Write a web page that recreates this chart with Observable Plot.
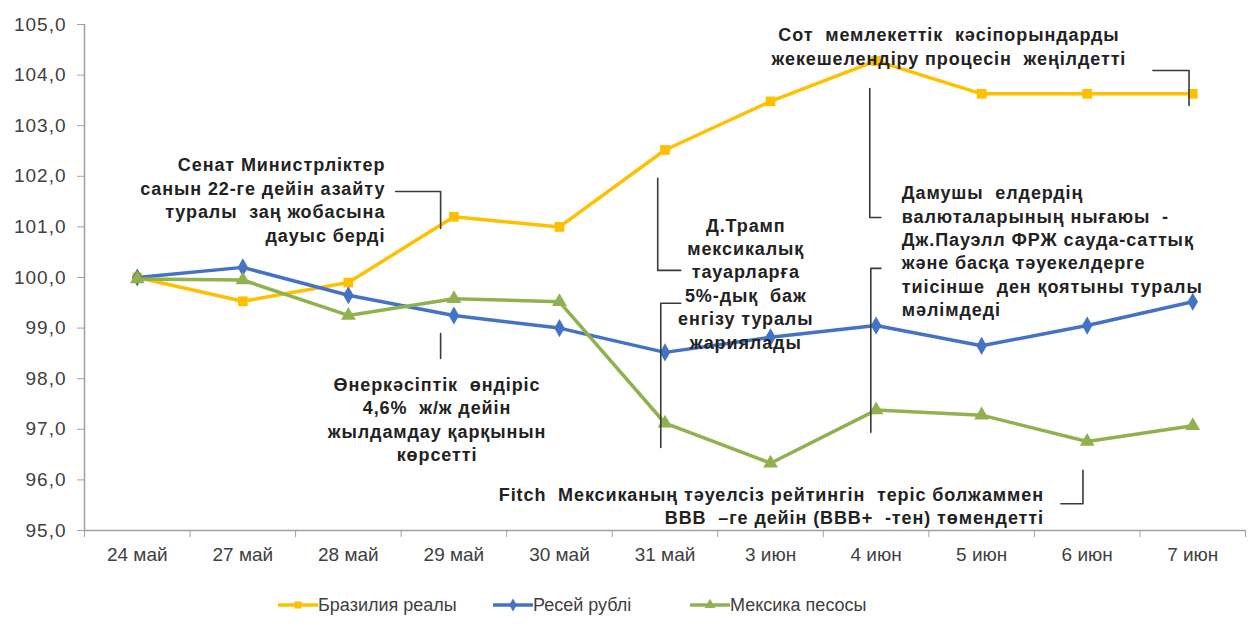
<!DOCTYPE html>
<html>
<head>
<meta charset="utf-8">
<script src="https://cdn.jsdelivr.net/npm/d3@7"></script>
<script src="https://cdn.jsdelivr.net/npm/@observablehq/plot@0.6"></script>
<style>
  body { margin: 0; background: #fff; font-family: "Liberation Sans", Arial, sans-serif; }
  #wrap { position: relative; width: 1253px; height: 639px; }
  #legend { position: absolute; left: 278px; top: 594px; font-size: 18px; color: #404040; }
  .item { position: absolute; display: flex; align-items: center; white-space: nowrap; height: 22px; }
</style>
</head>
<body>
<div id="wrap"><div id="chart"></div><div id="legend"></div></div>
<script>
const dates = ["24 май","27 май","28 май","29 май","30 май","31 май","3 июн","4 июн","5 июн","6 июн","7 июн"];
const brazil = [100.0, 99.53, 99.9, 101.2, 101.0, 102.52, 103.48, 104.28, 103.63, 103.63, 103.63];
const russia = [100.0, 100.2, 99.65, 99.25, 99.0, 98.52, 98.82, 99.05, 98.65, 99.05, 99.52];
const mexico = [99.97, 99.95, 99.25, 99.58, 99.52, 97.12, 96.33, 97.38, 97.28, 96.76, 97.07];
const seriesNames = ["Бразилия реалы", "Ресей рублі", "Мексика песосы"];
const seriesColors = ["#FFC000", "#4472C4", "#8FB24E"];
const seriesSymbols = ["square", "diamond", "triangle"];
const yTicks = [95, 96, 97, 98, 99, 100, 101, 102, 103, 104, 105];

const notes = [
  {x: 2.35, y: 101.55, anchor: "end", text: "Сенат Министрліктер\nсанын 22-ге дейін азайту\nтуралы  заң жобасына\nдауыс берді"},
  {x: 7.69, y: 104.585, anchor: "middle", text: "Сот  мемлекеттік  кәсіпорындарды\nжекешелендіру процесін  жеңілдетті"},
  {x: 5.765, y: 99.9, anchor: "middle", text: "Д.Трамп\nмексикалық\nтауарларға\n5%-дық  баж\nенгізу туралы\nжариялады"},
  {x: 2.84, y: 97.21, anchor: "middle", text: "Өнеркәсіптік  өндіріс\n4,6%  ж/ж дейін\nжылдамдау қарқынын\nкөрсетті"},
  {x: 7.244, y: 100.54, anchor: "start", text: "Дамушы  елдердің\nвалюталарының нығаюы  -\nДж.Пауэлл ФРЖ сауда-саттық\nжәне басқа тәуекелдерге\nтиісінше  ден қоятыны туралы\nмәлімдеді"},
  {x: 8.59, y: 95.5, anchor: "end", text: "Fitch  Мексиканың тәуелсіз рейтингін  теріс болжаммен\nBBB  –ге дейін (BBB+  -тен) төмендетті"}
];
const connectors = [
  [[2.448, 101.70], [2.874, 101.70], [2.874, 100.97]],
  [[9.623, 104.09], [9.965, 104.09], [9.965, 103.40]],
  [[5.149, 100.14], [4.931, 100.14], [4.931, 101.96]],
  [[5.149, 99.49], [4.96, 99.49], [4.96, 96.64]],
  [[2.874, 98.89], [2.874, 98.40]],
  [[6.94, 103.735], [6.94, 101.186], [7.045, 101.186]],
  [[7.045, 100.18], [6.95, 100.18], [6.95, 96.94]],
  [[8.751, 95.53], [8.96, 95.53], [8.96, 96.19]]
];

const allSeries = [brazil, russia, mexico];
const rows = [];
allSeries.forEach((vals, s) => vals.forEach((v, i) => rows.push({series: seriesNames[s], i, v})));
const connRows = [];
connectors.forEach((pts, k) => pts.forEach(([x, y]) => connRows.push({k, x, y})));
const idx = dates.map((d, i) => i);
const bounds = d3.range(0, dates.length + 1).map(i => i - 0.5);

const noteText = (anchor) => Plot.text(notes.filter(d => d.anchor === anchor), {
  x: "x", y: "y", text: "text", textAnchor: anchor, lineAnchor: "middle",
  lineHeight: 1.3, fontWeight: "bold", fontSize: 18, fill: "#222"
});

const chart = Plot.plot({
  width: 1253,
  height: 575,
  marginTop: 24,
  marginBottom: 45,
  marginLeft: 84,
  marginRight: 8,
  style: {fontFamily: "'Liberation Sans', Arial, sans-serif", fontSize: "19px", color: "#404040", background: "#fff"},
  x: {type: "linear", domain: [-0.5, dates.length - 0.5]},
  y: {domain: [95, 105]},
  color: {domain: seriesNames, range: seriesColors},
  symbol: {domain: seriesNames, range: seriesSymbols},
  marks: [
    Plot.ruleY([95], {stroke: "#A0A0A0", strokeWidth: 1.5}),
    Plot.ruleX([-0.5], {stroke: "#A0A0A0", strokeWidth: 1.5}),
    Plot.axisY(yTicks, {tickSize: 7, tickPadding: 11, stroke: "#A0A0A0", tickFormat: d => d.toFixed(1).replace(".", ","), label: null, fill: "#404040", fontSize: 19}),
    Plot.axisX(bounds, {tickSize: 7, stroke: "#A0A0A0", tickFormat: () => "", label: null}),
    Plot.axisX(idx, {tickSize: 0, tickPadding: 17, tickFormat: i => dates[i], label: null, fill: "#404040", fontSize: 19}),
    Plot.line(rows, {x: "i", y: "v", z: "series", stroke: "series", strokeWidth: 3.5}),
    Plot.dot(rows, {x: "i", y: "v", fill: "series", symbol: "series", r: 5.5, stroke: "none"}),
    Plot.line(connRows, {x: "x", y: "y", z: "k", stroke: "#3a3a3a", strokeWidth: 1.6}),
    noteText("start"),
    noteText("middle"),
    noteText("end")
  ]
});
document.getElementById("chart").appendChild(chart);
d3.select(chart).selectAll("[aria-label='y-axis tick label'] text").style("letter-spacing", "1px");
d3.select(chart).selectAll("[aria-label='text'] text").style("letter-spacing", "0.9px");

const legend = document.getElementById("legend");
const offs = [0, 215, 412];
seriesNames.forEach((name, s) => {
  const item = document.createElement("div");
  item.className = "item";
  item.style.left = offs[s] + "px";
  const sym = d3.symbol(d3[{square: "symbolSquare", diamond: "symbolDiamond", triangle: "symbolTriangle"}[seriesSymbols[s]]], 50)();
  item.innerHTML = `<svg width="40" height="20"><line x1="0" x2="40" y1="10" y2="10" stroke="${seriesColors[s]}" stroke-width="3.5"/><path d="${sym}" transform="translate(20,10)" fill="${seriesColors[s]}"/></svg><span>${name}</span>`;
  legend.appendChild(item);
});
</script>
</body>
</html>
